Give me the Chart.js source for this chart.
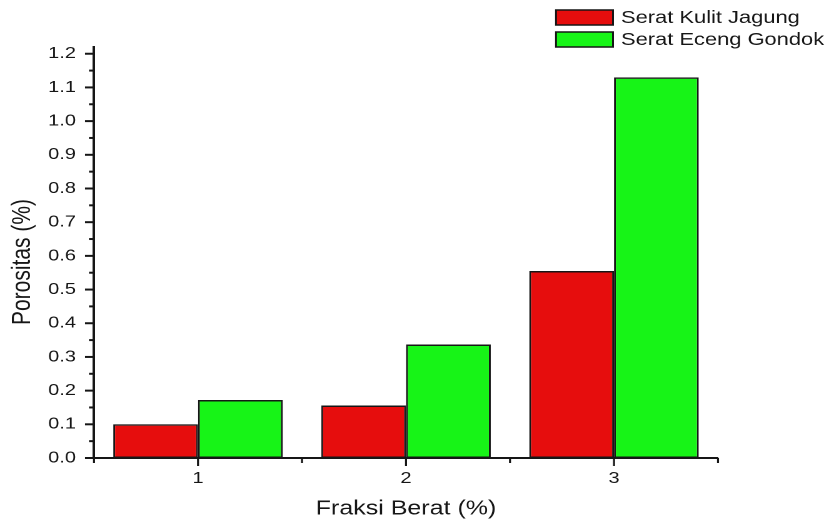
<!DOCTYPE html>
<html><head><meta charset="utf-8">
<script src="https://cdn.jsdelivr.net/npm/chart.js@4/dist/chart.umd.min.js"></script>
<style>
html,body{margin:0;padding:0;background:#fff;overflow:hidden;width:829px;height:520px;}
#wrap{position:absolute;left:0;top:0;height:520px;transform-origin:0 0;}
</style></head><body>
<div id="wrap"><canvas id="c"></canvas></div>
<script>
// ---- data ----
const categories = ['1', '2', '3'];
const seriesNames = ['Serat Kulit Jagung', 'Serat Eceng Gondok'];
const kulitJagung = [0.100, 0.156, 0.555];
const ecengGondok = [0.172, 0.337, 1.130];
const yTicks = [0.0, 0.1, 0.2, 0.3, 0.4, 0.5, 0.6, 0.7, 0.8, 0.9, 1.0, 1.1, 1.2];
const xTitle = 'Fraksi Berat (%)';
const yTitle = 'Porositas (%)';

// ---- layout (reference image is horizontally stretched) ----
const W = 663;
const S = 829 / W;
const wrap = document.getElementById('wrap');
wrap.style.width = W + 'px';
wrap.style.transform = 'scaleX(' + S + ')';

const INK = '#161616';
const FONT = "'Liberation Sans', Arial, sans-serif";
Chart.defaults.font.family = FONT;
Chart.defaults.color = INK;

const axisTicks = {
  id: 'axisTicks',
  afterDraw(chart) {
    const { ctx, scales: { x, y } } = chart;
    const line = (x1, y1, x2, y2) => { ctx.beginPath(); ctx.moveTo(x1, y1); ctx.lineTo(x2, y2); ctx.stroke(); };
    ctx.save();
    ctx.strokeStyle = INK;
    ctx.lineWidth = 2;
    const L = chart.chartArea.left;
    yTicks.forEach((v, i) => {
      const py = y.getPixelForValue(v);
      line(L - 9 / S, py, L, py);
      if (i < yTicks.length - 1) {
        const pm = y.getPixelForValue((v + yTicks[i + 1]) / 2);
        line(L - 5 / S, pm, L, pm);
      }
    });
    ctx.lineWidth = 2 / S;
    const B = chart.chartArea.bottom;
    categories.forEach((c, i) => {
      const px = x.getPixelForValue(i);
      line(px, B, px, B + 8);
    });
    for (let i = 0; i <= categories.length; i++) {
      const px = x.getPixelForValue(i - 0.5);
      line(px, B, px, B + 5);
    }
    // y axis title, centred where the reference puts it
    ctx.fillStyle = INK;
    ctx.font = '21px ' + FONT;
    ctx.textAlign = 'center';
    ctx.textBaseline = 'middle';
    ctx.translate(23 / S, 262);
    ctx.rotate(-Math.PI / 2);
    ctx.fillText(yTitle, 0, 0);
    ctx.restore();
  }
};

const boxLegend = {
  id: 'boxLegend',
  afterDraw(chart) {
    const ctx = chart.ctx;
    ctx.save();
    chart.data.datasets.forEach((ds, i) => {
      const y0 = 10 + i * 22;
      ctx.fillStyle = ds.backgroundColor;
      ctx.fillRect(556 / S, y0, 57 / S, 15);
      ctx.lineWidth = 1.5;
      ctx.strokeStyle = INK;
      ctx.strokeRect(556 / S, y0, 57 / S, 15);
      ctx.fillStyle = INK;
      ctx.font = '17.5px ' + FONT;
      ctx.textBaseline = 'middle';
      ctx.textAlign = 'left';
      ctx.fillText(ds.label, 621 / S, y0 + 8);
    });
    ctx.restore();
  }
};

new Chart(document.getElementById('c'), {
  type: 'bar',
  data: {
    labels: categories,
    datasets: [
      { label: seriesNames[0], data: kulitJagung, backgroundColor: '#e60d0d', borderColor: INK, borderWidth: 1.5, borderSkipped: false },
      { label: seriesNames[1], data: ecengGondok, backgroundColor: '#17f417', borderColor: INK, borderWidth: 1.5, borderSkipped: false }
    ]
  },
  options: {
    responsive: true,
    maintainAspectRatio: false,
    animation: false,
    devicePixelRatio: 2,
    layout: { padding: { top: 47, right: W - 718 / S, left: 0, bottom: 0 } },
    datasets: { bar: { categoryPercentage: 0.815, barPercentage: 1.0 } },
    plugins: { legend: { display: false }, tooltip: { enabled: false } },
    scales: {
      x: {
        offset: true,
        grid: { display: false, drawTicks: false, tickLength: 0 },
        border: { display: true, color: INK, width: 2 },
        ticks: { padding: 11, font: { size: 16 }, color: INK, maxRotation: 0 },
        title: { display: true, text: xTitle, font: { size: 20, lineHeight: 1.0 }, color: INK, padding: { top: 0, bottom: 1 } },
        afterFit(scale) { scale.height = 62; }
      },
      y: {
        min: 0,
        max: 1.22,
        grid: { display: false, drawTicks: false, tickLength: 0 },
        border: { display: true, color: INK, width: 2 },
        afterBuildTicks(scale) { scale.ticks = yTicks.map(v => ({ value: v })); },
        ticks: { padding: 18 / S, font: { size: 16 }, color: INK, autoSkip: false, callback: v => Number(v).toFixed(1) },
        title: { display: false, text: yTitle },
        afterFit(scale) { scale.width = 94 / S; }
      }
    }
  },
  plugins: [axisTicks, boxLegend]
});
</script>
</body></html>
